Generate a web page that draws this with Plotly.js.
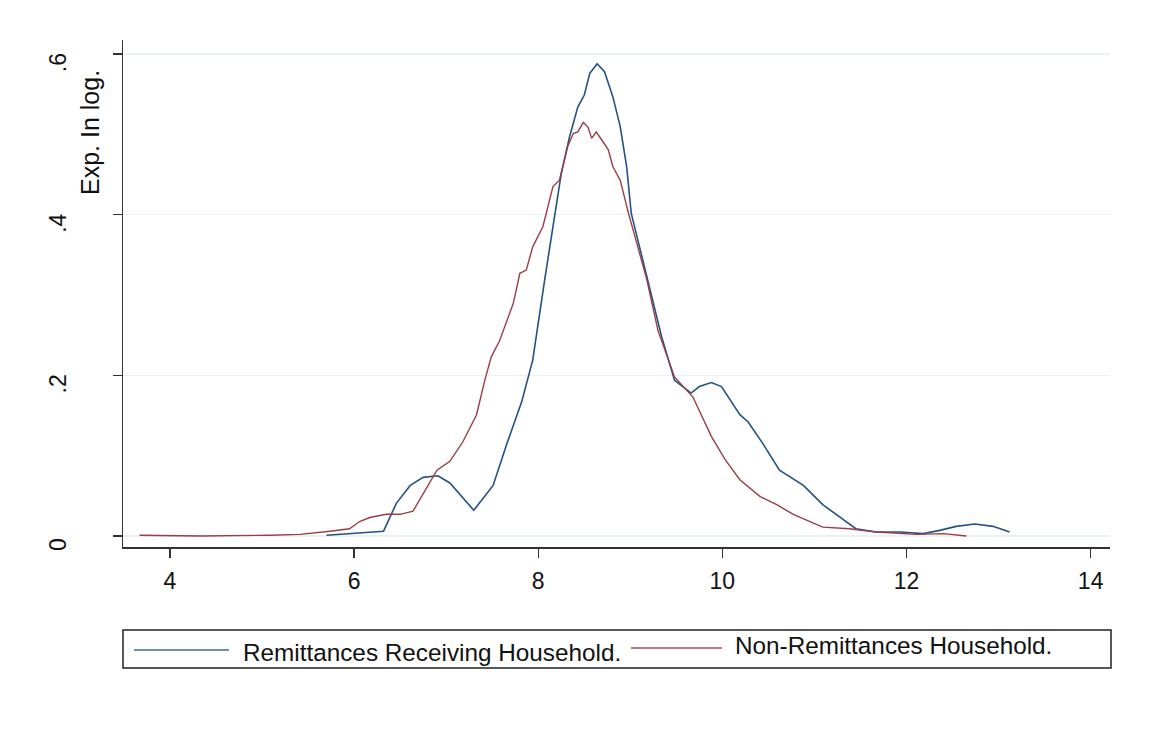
<!DOCTYPE html>
<html>
<head>
<meta charset="utf-8">
<script src="https://cdn.plot.ly/plotly-3.0.1.min.js"></script>
<style>html,body{margin:0;padding:0;background:#fff;}#chart{width:1173px;height:750px;}</style>
</head>
<body>
<div id="chart"></div>
<script>
// Remittances Receiving Household (kernel density of log expenditure)
const remitX = [5.70,6.32,6.46,6.61,6.75,6.91,7.04,7.18,7.30,7.51,7.66,7.82,7.94,8.07,8.16,8.25,8.34,8.43,8.50,8.56,8.64,8.72,8.81,8.89,8.96,9.01,9.10,9.21,9.34,9.48,9.66,9.75,9.88,9.99,10.19,10.28,10.44,10.62,10.88,11.09,11.27,11.45,11.67,11.93,12.18,12.36,12.54,12.74,12.94,13.12];
const remitY = [0.001,0.006,0.041,0.063,0.073,0.075,0.066,0.047,0.032,0.063,0.115,0.167,0.219,0.319,0.385,0.451,0.497,0.534,0.549,0.576,0.588,0.578,0.547,0.510,0.460,0.402,0.360,0.310,0.248,0.194,0.178,0.186,0.191,0.186,0.151,0.142,0.115,0.082,0.063,0.039,0.024,0.009,0.005,0.005,0.003,0.007,0.012,0.015,0.012,0.005];

// Non-Remittances Household
const nonX = [3.67,4.33,5.09,5.41,5.74,5.95,6.06,6.17,6.35,6.50,6.64,6.75,6.90,7.04,7.18,7.33,7.42,7.49,7.58,7.73,7.80,7.87,7.94,8.05,8.16,8.23,8.32,8.38,8.43,8.49,8.54,8.58,8.63,8.69,8.76,8.81,8.89,8.98,9.07,9.18,9.30,9.48,9.68,9.88,10.03,10.19,10.41,10.59,10.77,10.95,11.09,11.38,11.67,12.11,12.40,12.65];
const nonY = [0.001,0.000,0.001,0.002,0.006,0.009,0.018,0.023,0.027,0.027,0.031,0.053,0.082,0.093,0.117,0.151,0.194,0.223,0.243,0.290,0.327,0.331,0.360,0.385,0.435,0.443,0.485,0.501,0.503,0.515,0.509,0.495,0.503,0.493,0.481,0.460,0.443,0.402,0.364,0.319,0.256,0.198,0.173,0.124,0.095,0.070,0.049,0.039,0.027,0.018,0.011,0.009,0.005,0.002,0.003,0.000];

const seriesNames = ["Remittances Receiving Household.", "Non-Remittances Household."];
const yTickVals = [0, 0.2, 0.4, 0.6];
const yTickText = ["0", ".2", ".4", ".6"];
const xTickVals = [4, 6, 8, 10, 12, 14];
const yTitle = "Exp. In log.";

const blue = "#245383";
const red = "#9a3d45";
const fontFam = "Liberation Sans, Arial, sans-serif";

const traces = [
  {x: remitX, y: remitY, type: "scatter", mode: "lines", name: seriesNames[0],
   line: {color: blue, width: 1.6}, showlegend: false},
  {x: nonX, y: nonY, type: "scatter", mode: "lines", name: seriesNames[1],
   line: {color: red, width: 1.4}, showlegend: false}
];

// pixel -> paper helpers (plot area: 123..1110 x, 40..547 y)
const L = 123, R = 63, T = 40, B = 203, W = 1173 - L - R, H = 750 - T - B;
const px = v => (v - L) / W;
const py = v => (750 - B - v) / H;

const layout = {
  width: 1173, height: 750,
  margin: {l: L, r: R, t: T, b: B, pad: 0},
  paper_bgcolor: "#ffffff", plot_bgcolor: "#ffffff",
  font: {family: fontFam, color: "#111", size: 23},
  xaxis: {
    range: [3.49, 14.21], tickvals: xTickVals, ticks: "outside", ticklen: 9, tickwidth: 1.3,
    tickcolor: "#333", showline: true, linecolor: "#333", linewidth: 1.5,
    showgrid: false, zeroline: false, ticklabelstandoff: 4,
    tickfont: {size: 23, family: fontFam, color: "#111"}
  },
  yaxis: {
    range: [-0.0137, 0.6175], tickvals: yTickVals, ticktext: yTickText, tickangle: -90,
    ticks: "outside", ticklen: 9, tickwidth: 1.3, tickcolor: "#333",
    showline: true, linecolor: "#333", linewidth: 1.5,
    showgrid: true, gridcolor: "#e9f1f3", gridwidth: 1.2, zeroline: false,
    ticklabelstandoff: 37, ticklabelshift: 12,
    tickfont: {size: 23, family: fontFam, color: "#111"}
  },
  shapes: [
    {type: "rect", xref: "paper", yref: "paper", x0: px(123), x1: px(1111), y0: py(668), y1: py(630),
     line: {color: "#222", width: 1.5}, fillcolor: "rgba(0,0,0,0)"},
    {type: "line", xref: "paper", yref: "paper", x0: px(134), x1: px(229), y0: py(650), y1: py(650),
     line: {color: "#6d8fb0", width: 2}},
    {type: "line", xref: "paper", yref: "paper", x0: px(631), x1: px(722), y0: py(648), y1: py(648),
     line: {color: "#c27a80", width: 2}}
  ],
  annotations: [
    {text: yTitle, xref: "paper", yref: "paper", x: px(90), y: py(133), textangle: -90,
     showarrow: false, xanchor: "center", yanchor: "middle",
     font: {size: 25, family: fontFam, color: "#111"}},
    {text: seriesNames[0], xref: "paper", yref: "paper", x: px(241), y: py(652),
     showarrow: false, xanchor: "left", yanchor: "middle",
     font: {size: 24.3, family: fontFam, color: "#111"}},
    {text: seriesNames[1], xref: "paper", yref: "paper", x: px(733), y: py(646),
     showarrow: false, xanchor: "left", yanchor: "middle",
     font: {size: 24.3, family: fontFam, color: "#111"}}
  ]
};

Plotly.newPlot("chart", traces, layout, {staticPlot: true, displayModeBar: false});
</script>
</body>
</html>
